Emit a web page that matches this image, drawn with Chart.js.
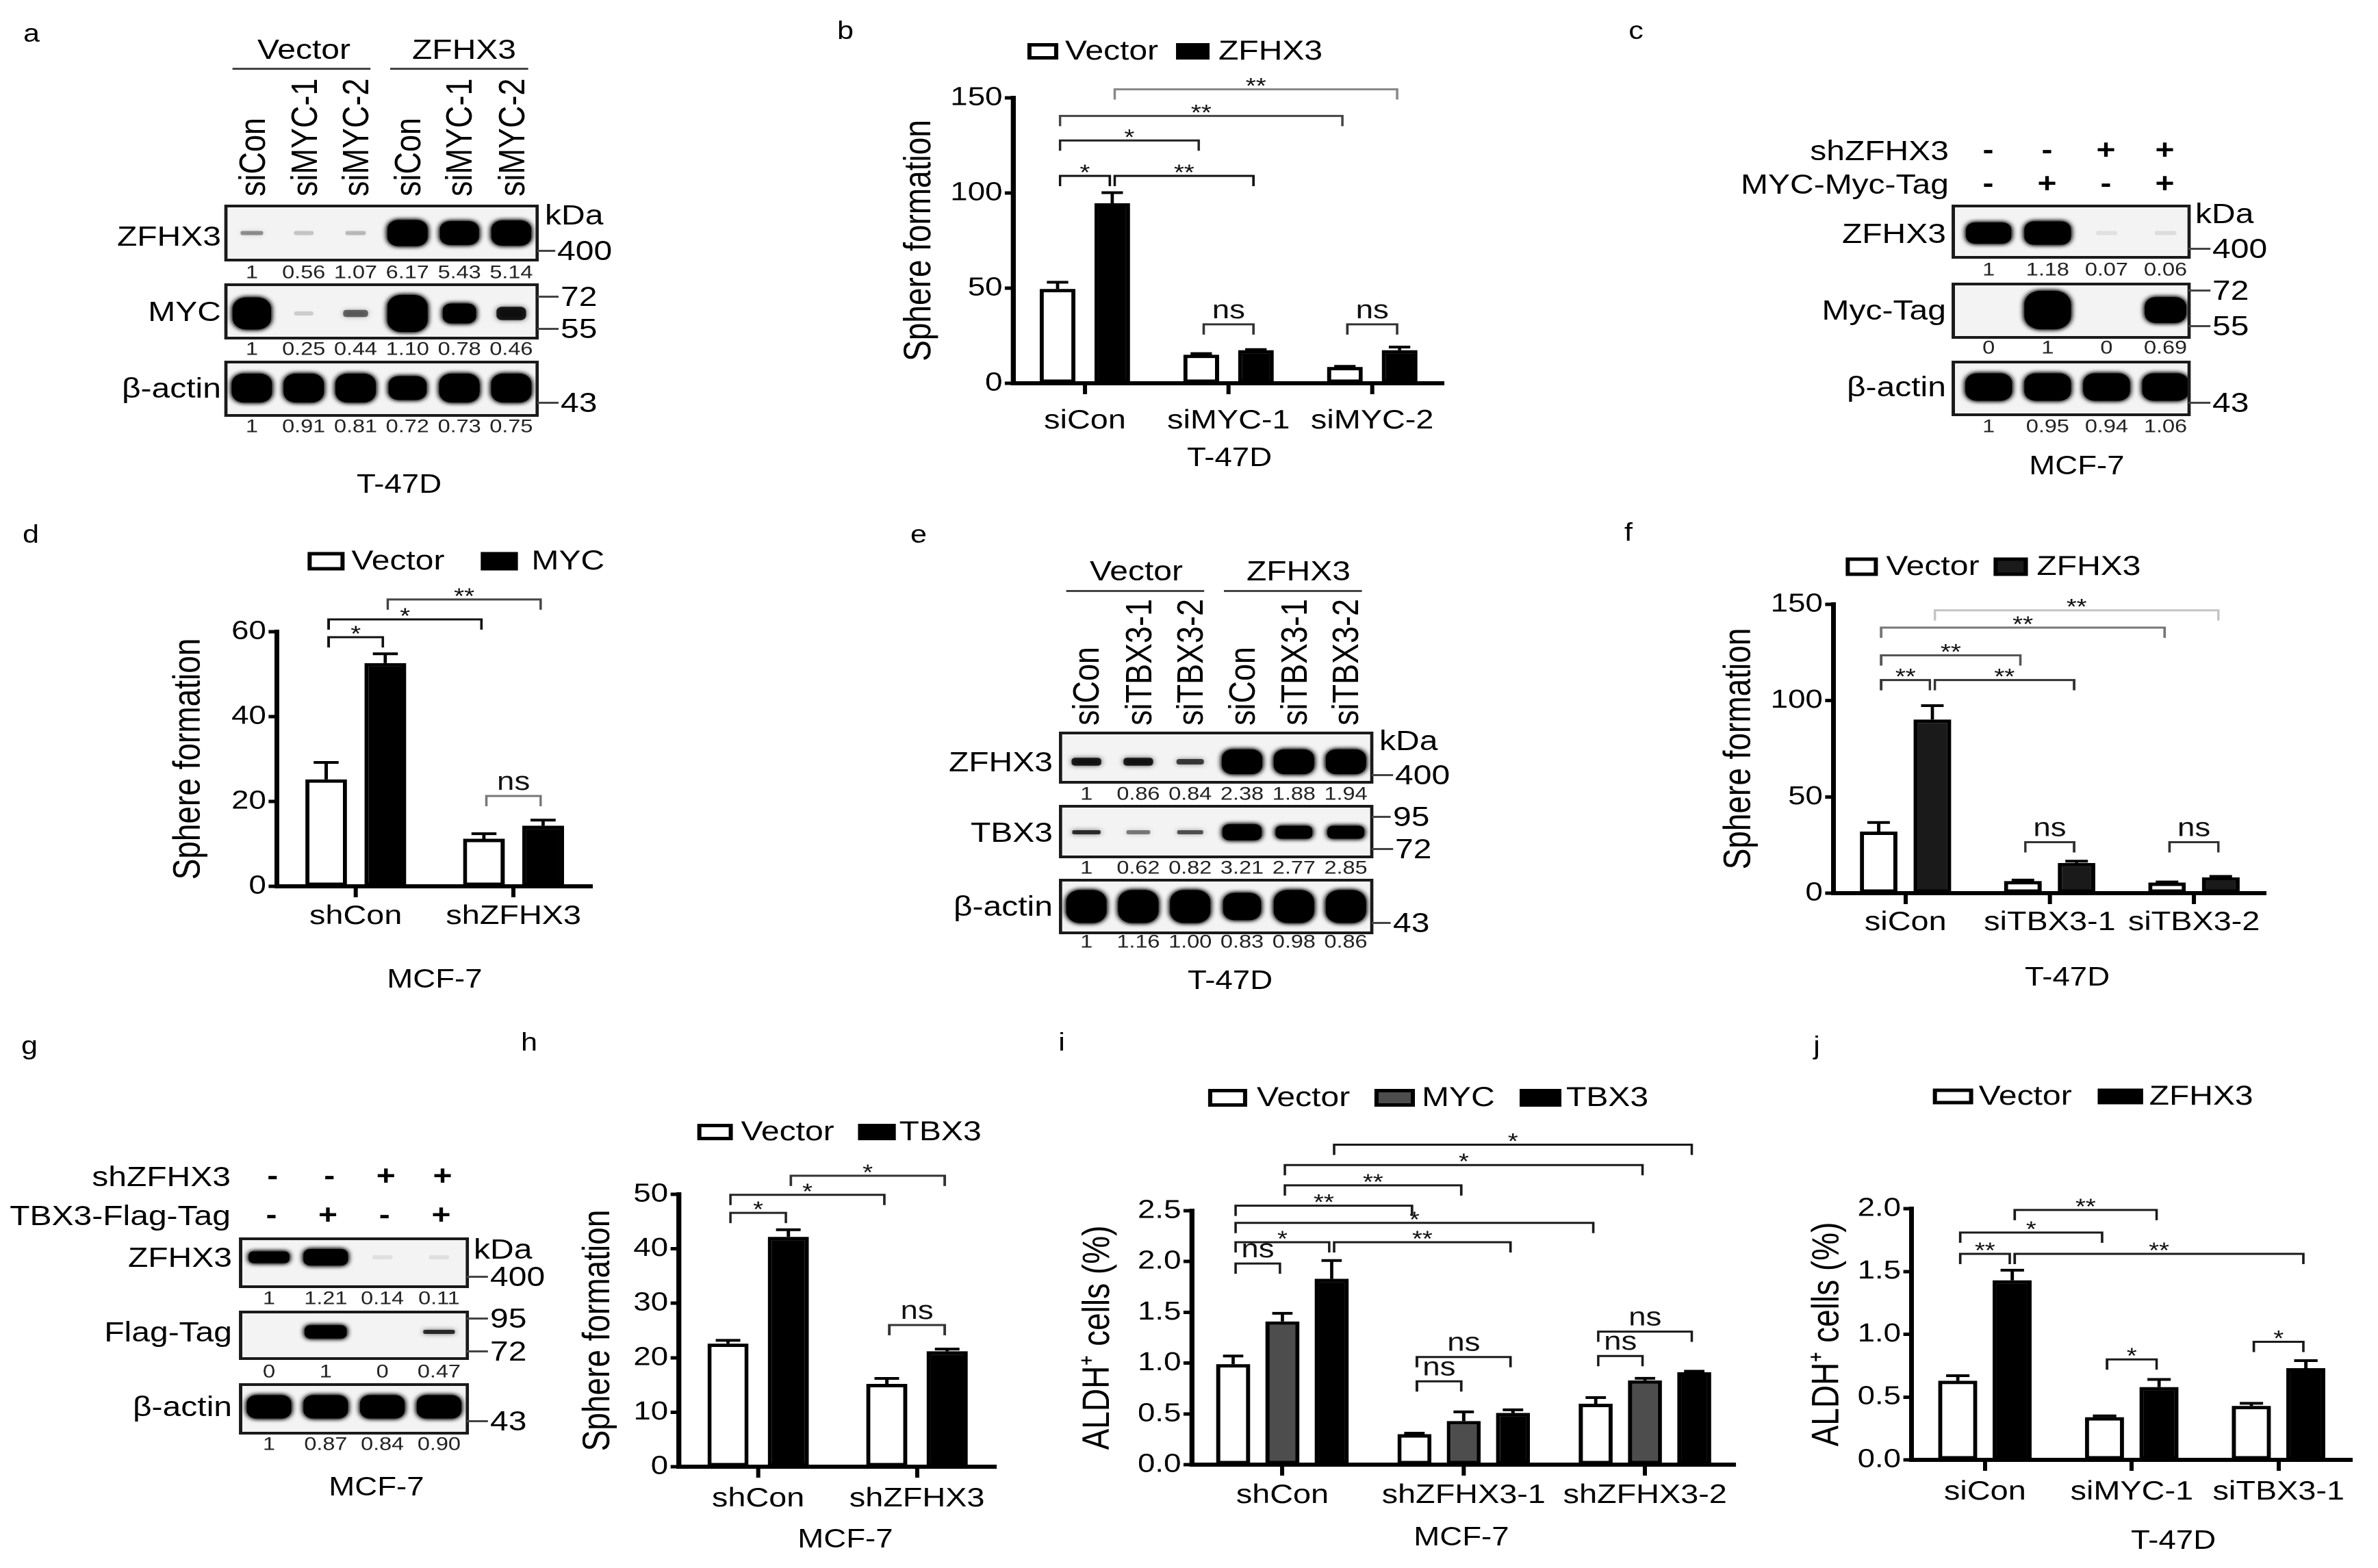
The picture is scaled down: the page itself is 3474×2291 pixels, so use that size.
<!DOCTYPE html>
<html>
<head>
<meta charset="utf-8">
<script src="https://cdn.jsdelivr.net/npm/chart.js@4.4.1/dist/chart.umd.min.js"></script>
<style>
  html, body { margin: 0; padding: 0; background: #fff; }
  body { width: 3474px; height: 2291px; overflow: hidden; position: relative; }
  #fig { position: absolute; left: 0; top: 0; width: 2895px; height: 2291px;
         transform: scaleX(1.2); transform-origin: 0 0;
         font-family: 'Liberation Sans', Arial, sans-serif; color: #000; }
  #fig .t { position: absolute; white-space: nowrap; line-height: 1; }
  #fig canvas { position: absolute; }
</style>
</head>
<body>
<div id="fig"></div>
<script>
// the figure text is wider than Arial, so the page is drawn narrow and stretched
const SX = 1.2;
const FONT = "'Liberation Sans', Arial, sans-serif";

// ---------- a: western blot, T-47D ----------
const aLanes = ['siCon', 'siMYC-1', 'siMYC-2', 'siCon', 'siMYC-1', 'siMYC-2'];
const aZfhx3Band = [0.25, 0.12, 0.15, 1, 0.95, 0.98];
const aZfhx3Nums = ['1', '0.56', '1.07', '6.17', '5.43', '5.14'];
const aMycBand = [0.92, 0.1, 0.35, 1, 0.7, 0.55];
const aMycNums = ['1', '0.25', '0.44', '1.10', '0.78', '0.46'];
const aActinBand = [1, 1, 1, 0.9, 1, 1];
const aActinNums = ['1', '0.91', '0.81', '0.72', '0.73', '0.75'];

// ---------- b: sphere formation, T-47D ----------
const bCats = ['siCon', 'siMYC-1', 'siMYC-2'];
const bVector = [49.6, 15, 8.6];
const bVectorErr = [3.5, 0.6, 0.3];
const bZfhx3 = [94.6, 17.4, 17.4];
const bZfhx3Err = [5.6, 0.3, 1.6];
// [group1, series1, group2, series2, y value, label]
const bSig = [[0,0,0,1,109,'*'], [0,1,1,1,109,'**'], [0,0,1,0,127.6,'*'], [0,0,2,0,140.5,'**'],
              [0,1,2,1,154.5,'**'], [1,0,1,1,31,'ns'], [2,0,2,1,31,'ns']];

// ---------- c: western blot, MCF-7 ----------
const cShZfhx3 = ['-', '-', '+', '+'];
const cMycTag = ['-', '+', '-', '+'];
const cZfhx3Band = [0.95, 1, 0.05, 0.06];
const cZfhx3Nums = ['1', '1.18', '0.07', '0.06'];
const cMycTagBand = [0, 1, 0, 0.8];
const cMycTagNums = ['0', '1', '0', '0.69'];
const cActinBand = [1, 1, 1, 1];
const cActinNums = ['1', '0.95', '0.94', '1.06'];

// ---------- d: sphere formation, MCF-7 ----------
const dCats = ['shCon', 'shZFHX3'];
const dVector = [25.2, 11.2];
const dVectorErr = [4, 1.2];
const dMyc = [52.6, 14.3];
const dMycErr = [2.2, 1.3];
const dSig = [[0,0,0,1,58.7,'*'], [0,0,1,0,62.9,'*'], [0,1,1,1,67.6,'**'], [1,0,1,1,21.3,'ns']];

// ---------- e: western blot, T-47D ----------
const eLanes = ['siCon', 'siTBX3-1', 'siTBX3-2', 'siCon', 'siTBX3-1', 'siTBX3-2'];
const eZfhx3Band = [0.55, 0.55, 0.45, 1, 1, 1];
const eZfhx3Nums = ['1', '0.86', '0.84', '2.38', '1.88', '1.94'];
const eTbx3Band = [0.5, 0.3, 0.4, 0.95, 0.85, 0.85];
const eTbx3Nums = ['1', '0.62', '0.82', '3.21', '2.77', '2.85'];
const eActinBand = [1, 1, 1, 0.9, 1, 1];
const eActinNums = ['1', '1.16', '1.00', '0.83', '0.98', '0.86'];

// ---------- f: sphere formation, T-47D ----------
const fCats = ['siCon', 'siTBX3-1', 'siTBX3-2'];
const fVector = [32, 6.3, 5.5];
const fVectorErr = [4.7, 0.5, 0.3];
const fZfhx3 = [90.2, 15.7, 8.2];
const fZfhx3Err = [7.2, 0.9, 0.5];
const fSig = [[0,0,0,1,110.7,'**'], [0,1,1,1,110.7,'**'], [0,0,1,0,123.5,'**'], [0,0,2,0,137.9,'**'],
              [0,1,2,1,146.9,'**'], [1,0,1,1,26.5,'ns'], [2,0,2,1,26.5,'ns']];

// ---------- g: western blot, MCF-7 ----------
const gShZfhx3 = ['-', '-', '+', '+'];
const gFlagTag = ['-', '+', '-', '+'];
const gZfhx3Band = [0.85, 1, 0.05, 0.05];
const gZfhx3Nums = ['1', '1.21', '0.14', '0.11'];
const gFlagBand = [0, 0.9, 0, 0.5];
const gFlagNums = ['0', '1', '0', '0.47'];
const gActinBand = [1, 1, 1, 1];
const gActinNums = ['1', '0.87', '0.84', '0.90'];

// ---------- h: sphere formation, MCF-7 ----------
const hCats = ['shCon', 'shZFHX3'];
const hVector = [22.6, 15.2];
const hVectorErr = [0.6, 1.0];
const hTbx3 = [42.2, 21.2];
const hTbx3Err = [1.3, 0.4];
const hSig = [[0,0,0,1,46.6,'*'], [0,0,1,0,49.9,'*'], [0,1,1,1,53.4,'*'], [1,0,1,1,26,'ns']];

// ---------- i: ALDH+ cells, MCF-7 ----------
const iCats = ['shCon', 'shZFHX3-1', 'shZFHX3-2'];
const iVector = [0.99, 0.30, 0.60];
const iVectorErr = [0.08, 0.01, 0.06];
const iMyc = [1.41, 0.43, 0.83];
const iMycErr = [0.08, 0.09, 0.02];
const iTbx3 = [1.83, 0.51, 0.91];
const iTbx3Err = [0.18, 0.03, 0.01];
const iSig = [[0,0,0,1,1.98,'ns'], [0,0,0,2,2.19,'*'], [0,2,1,2,2.19,'**'], [0,0,2,0,2.38,'*'],
              [0,0,1,0,2.55,'**'], [0,1,1,1,2.75,'**'], [0,1,2,1,2.95,'*'], [0,2,2,2,3.15,'*'],
              [1,0,1,1,0.82,'ns'], [1,0,1,2,1.06,'ns'], [2,0,2,1,1.07,'ns'], [2,0,2,2,1.31,'ns']];

// ---------- j: ALDH+ cells, T-47D ----------
const jCats = ['siCon', 'siMYC-1', 'siTBX3-1'];
const jVector = [0.63, 0.34, 0.43];
const jVectorErr = [0.04, 0.01, 0.02];
const jZfhx3 = [1.43, 0.58, 0.73];
const jZfhx3Err = [0.08, 0.06, 0.06];
const jSig = [[0,0,0,1,1.64,'**'], [0,1,2,1,1.64,'**'], [0,0,1,0,1.81,'*'], [0,1,1,1,1.99,'**'],
              [1,0,1,1,0.80,'*'], [2,0,2,1,0.94,'*']];

// -------------------------------------------------------------------
const fig = document.getElementById('fig');
const REG = {};   // per-canvas drawing info for the plugins
Chart.defaults.font.family = FONT;

function txt(s, x, y, o = {}) {
  const d = document.createElement('div');
  d.className = 't';
  d.textContent = s;
  d.style.fontSize = (o.size || 40) + 'px';
  d.style.left = (x / SX) + 'px';
  d.style.top = y + 'px';
  const ax = o.align === 'right' ? 100 : o.align === 'left' ? 0 : 50;
  if (o.rot) {
    d.style.transformOrigin = '0 0';
    d.style.transform = `rotate(-90deg) translate(${-ax}%, -50%)`;
  } else {
    d.style.transform = `translate(${-ax}%, -50%)`;
  }
  if (o.weight) d.style.fontWeight = o.weight;
  if (o.color) d.style.color = o.color;
  fig.appendChild(d);
}

function hline(x1, x2, y, w, c) {
  const d = document.createElement('div');
  d.style.position = 'absolute';
  d.style.left = (x1 / SX) + 'px';
  d.style.width = ((x2 - x1) / SX) + 'px';
  d.style.top = (y - w / 2) + 'px';
  d.style.height = w + 'px';
  d.style.background = c;
  fig.appendChild(d);
}

function makeCanvas(id, l, t, r, b) {
  const cv = document.createElement('canvas');
  cv.id = id;
  const w = Math.round((r - l) / SX), h = Math.round(b - t);
  cv.width = w; cv.height = h;
  cv.style.left = (l / SX) + 'px';
  cv.style.top = t + 'px';
  cv.style.width = w + 'px';
  cv.style.height = h + 'px';
  fig.appendChild(cv);
  return cv;
}

// error bars above each bar
Chart.register({
  id: 'errBars',
  afterDatasetsDraw(chart) {
    const ctx = chart.ctx, ys = chart.scales.y;
    chart.data.datasets.forEach((ds, i) => {
      if (!ds.errors) return;
      chart.getDatasetMeta(i).data.forEach((el, j) => {
        const top = ys.getPixelForValue(ds.data[j] + ds.errors[j]);
        const hw = el.width * 0.3;
        ctx.save();
        ctx.strokeStyle = '#000';
        ctx.lineWidth = 4;
        ctx.beginPath();
        ctx.moveTo(el.x, el.y); ctx.lineTo(el.x, top);
        ctx.moveTo(el.x - hw, top); ctx.lineTo(el.x + hw, top);
        ctx.stroke();
        ctx.restore();
      });
    });
  }
});

// significance brackets + legend boxes
Chart.register({
  id: 'sigMarks',
  afterDraw(chart) {
    const p = REG[chart.canvas.id];
    if (!p || !p.sig) return;
    const ctx = chart.ctx, ys = chart.scales.y;
    p.sig.forEach((it, k) => {
      const [g1, s1, g2, s2, v, label] = it;
      const e1 = chart.getDatasetMeta(s1).data[g1];
      const e2 = chart.getDatasetMeta(s2).data[g2];
      const x1 = Math.min(e1.x, e2.x) + 3, x2 = Math.max(e1.x, e2.x) - 3;
      const y = ys.getPixelForValue(v);
      const leg = 15;
      ctx.save();
      ctx.strokeStyle = (p.sigColors && p.sigColors[k]) || '#1a1a1a';
      ctx.lineWidth = 3;
      ctx.beginPath();
      ctx.moveTo(x1, y + leg); ctx.lineTo(x1, y); ctx.lineTo(x2, y); ctx.lineTo(x2, y + leg);
      ctx.stroke();
      ctx.fillStyle = '#111';
      ctx.textAlign = 'center';
      ctx.textBaseline = 'alphabetic';
      if (label === 'ns') {
        ctx.font = `38px ${FONT}`;
        ctx.fillText(label, (x1 + x2) / 2, y - 9);
      } else {
        ctx.font = `32px ${FONT}`;
        ctx.fillText(label, (x1 + x2) / 2, y + 6);
      }
      ctx.restore();
    });

    const lg = p.legend, ox = p.canvas[0], oy = p.canvas[1];
    chart.data.datasets.forEach((ds, i) => {
      const bx0 = (lg.boxes[i][0] - ox) / SX, bx1 = (lg.boxes[i][1] - ox) / SX;
      const by = lg.y - oy - lg.h / 2;
      ctx.save();
      ctx.fillStyle = ds.backgroundColor;
      ctx.fillRect(bx0, by, bx1 - bx0, lg.h);
      ctx.strokeStyle = '#000';
      ctx.lineWidth = 5;
      ctx.strokeRect(bx0 + 2.5, by + 2.5, bx1 - bx0 - 5, lg.h - 5);
      ctx.fillStyle = '#000';
      ctx.font = `40px ${FONT}`;
      ctx.textAlign = 'left';
      ctx.textBaseline = 'middle';
      ctx.fillText(ds.label, (lg.texts[i] - ox) / SX, lg.y - oy + 1);
      ctx.restore();
    });
  }
});

// blot boxes, bands and quantification numbers
Chart.register({
  id: 'blotRows',
  afterDraw(chart) {
    const p = REG[chart.canvas.id];
    if (!p || !p.rows) return;
    const ctx = chart.ctx, xs = chart.scales.x, ys = chart.scales.y, ca = chart.chartArea;
    const sp = xs.getPixelForValue(2) - xs.getPixelForValue(1);
    p.rows.forEach(r => {
      const yT = ys.getPixelForValue(r.t), yB = ys.getPixelForValue(r.b);
      ctx.save();
      ctx.fillStyle = '#f3f3f3';
      ctx.fillRect(ca.left, yT, ca.right - ca.left, yB - yT);
      ctx.beginPath();
      ctx.rect(ca.left, yT, ca.right - ca.left, yB - yT);
      ctx.clip();
      const cy = ys.getPixelForValue((r.t + r.b) / 2 + (r.dy || 0));
      r.band.forEach((v, i) => {
        if (v <= 0) return;
        const cx = xs.getPixelForValue(i + 1);
        const w = sp * (0.45 + 0.45 * v) - 8;
        const h = Math.max(6, r.bandH * (0.2 + 0.8 * v * v) - 8);
        const a = Math.min(1, 1.5 * v).toFixed(3);
        ctx.fillStyle = `rgba(0,0,0,${a})`;
        ctx.shadowColor = `rgba(0,0,0,${a})`;
        ctx.shadowBlur = 14;
        const n = v > 0.6 ? 2 : 1;
        for (let k = 0; k < n; k++) {
          ctx.beginPath();
          ctx.roundRect(cx - w / 2, cy - h / 2, w, h, Math.min(h, w) * 0.35);
          ctx.fill();
        }
      });
      ctx.restore();
      ctx.save();
      ctx.strokeStyle = '#1a1a1a';
      ctx.lineWidth = 4;
      ctx.strokeRect(ca.left, yT, ca.right - ca.left, yB - yT);
      ctx.fillStyle = '#222';
      ctx.font = `27px ${FONT}`;
      ctx.textAlign = 'center';
      ctx.textBaseline = 'middle';
      r.nums.forEach((s, i) => ctx.fillText(s, xs.getPixelForValue(i + 1), ys.getPixelForValue(r.numY)));
      ctx.restore();
    });
  }
});

function barPanel(p) {
  const [cl, ct, cr, cb] = p.canvas;
  const [L, T, R, B] = p.area;
  const cv = makeCanvas(p.id, cl, ct, cr, cb);
  REG[p.id] = p;
  const titleSize = 46;
  const titlePad = (p.titleX - cl) / SX - titleSize * 1.2 / 2;
  new Chart(cv, {
    type: 'bar',
    data: {
      labels: p.labels,
      datasets: p.sets.map(s => ({
        label: s.label, data: s.data, errors: s.err,
        backgroundColor: s.fill, borderColor: '#000', borderWidth: 5, borderSkipped: false,
        categoryPercentage: p.cp, barPercentage: p.bp
      }))
    },
    options: {
      responsive: false, animation: false, devicePixelRatio: 2, events: [],
      layout: { padding: { left: 0, top: T - ct, right: (cr - R) / SX, bottom: 0 } },
      plugins: { legend: { display: false }, tooltip: { enabled: false } },
      scales: {
        x: {
          grid: { drawOnChartArea: false, offset: false, tickLength: 16, tickWidth: 5, tickColor: '#000' },
          border: { color: '#000', width: 6 },
          ticks: { color: '#000', font: { size: 39 }, padding: p.xDy - 16 - 23.4, maxRotation: 0, autoSkip: false },
          afterFit: s => { s.height = cb - B; }
        },
        y: {
          min: 0, max: p.yMax,
          ticks: { stepSize: p.yStep, color: '#000', font: { size: 38 }, padding: 3,
                   callback: v => p.dec ? v.toFixed(p.dec) : v },
          grid: { drawOnChartArea: false, tickLength: 10, tickWidth: 5, tickColor: '#000' },
          border: { color: '#000', width: 6 },
          title: { display: true, text: p.yTitle, color: '#000', font: { size: titleSize },
                   padding: { top: titlePad, bottom: 0 } },
          afterFit: s => { s.width = (L - cl) / SX; }
        }
      }
    }
  });
}

function blotPanel(p) {
  const pad = 6;
  const cv = makeCanvas(p.id, p.box[0] - pad, p.top, p.box[1] + pad, p.bottom);
  REG[p.id] = p;
  new Chart(cv, {
    type: 'scatter',
    data: { datasets: [] },
    options: {
      responsive: false, animation: false, devicePixelRatio: 2, events: [],
      layout: { padding: { left: pad / SX, right: pad / SX, top: 0, bottom: 0 } },
      plugins: { legend: { display: false }, tooltip: { enabled: false } },
      scales: {
        x: { type: 'linear', display: false, min: p.lanes[0], max: p.lanes[1] },
        y: { type: 'linear', display: false, min: p.top, max: p.bottom, reverse: true }
      }
    }
  });
}

function laneX(p, lane) {
  return p.box[0] + (lane - p.lanes[0]) / (p.lanes[1] - p.lanes[0]) * (p.box[1] - p.box[0]);
}

function marker(boxR, textL, y, s) {
  hline(boxR, textL - 3, y, 3, '#444');
  txt(s, textL, y, { align: 'left' });
}

// ---------- panel letters ----------
[['a', 46, 49], ['b', 1235, 45], ['c', 2390, 45], ['d', 45, 781], ['e', 1342, 781],
 ['f', 2379, 778], ['g', 43, 1528], ['h', 773, 1523], ['i', 1551, 1523], ['j', 2654, 1528]]
  .forEach(([s, x, y]) => txt(s, x, y, { size: 36 }));

// ---------- a ----------
const pa = { id: 'a', box: [330, 785], lanes: [0.5, 6.5], top: 296, bottom: 640, rows: [
  { t: 301, b: 380, band: aZfhx3Band, nums: aZfhx3Nums, numY: 399, bandH: 46, dy: 0 },
  { t: 416, b: 494, band: aMycBand, nums: aMycNums, numY: 511, bandH: 62, dy: 3 },
  { t: 529, b: 607, band: aActinBand, nums: aActinNums, numY: 624, bandH: 50, dy: -1 } ] };
blotPanel(pa);
txt('Vector', 444, 72); hline(339, 541, 100, 3, '#444');
txt('ZFHX3', 678, 72); hline(570, 772, 100, 3, '#444');
aLanes.forEach((s, i) => txt(s, laneX(pa, i + 1), 287, { align: 'left', rot: true, size: 45 }));
txt('ZFHX3', 323, 345, { align: 'right' });
txt('MYC', 323, 455, { align: 'right' });
txt('β-actin', 323, 567, { align: 'right' });
txt('kDa', 796, 314, { align: 'left' });
marker(785, 814, 366, '400'); marker(785, 819, 433, '72'); marker(785, 819, 480, '55'); marker(785, 819, 588, '43');
txt('T-47D', 583, 707, { size: 38 });

// ---------- c ----------
const pc = { id: 'c', box: [2853, 3197], lanes: [0.4, 4.4], top: 296, bottom: 640, rows: [
  { t: 301, b: 376, band: cZfhx3Band, nums: cZfhx3Nums, numY: 395, bandH: 42, dy: 2 },
  { t: 415, b: 493, band: cMycTagBand, nums: cMycTagNums, numY: 509, bandH: 64, dy: -1 },
  { t: 529, b: 606, band: cActinBand, nums: cActinNums, numY: 624, bandH: 48, dy: -2 } ] };
blotPanel(pc);
txt('shZFHX3', 2847, 220, { align: 'right' });
txt('MYC-Myc-Tag', 2847, 269, { align: 'right' });
cShZfhx3.forEach((s, i) => txt(s, laneX(pc, i + 1), 218, { weight: 'bold' }));
cMycTag.forEach((s, i) => txt(s, laneX(pc, i + 1), 267, { weight: 'bold' }));
txt('ZFHX3', 2843, 341, { align: 'right' });
txt('Myc-Tag', 2843, 453, { align: 'right' });
txt('β-actin', 2843, 565, { align: 'right' });
txt('kDa', 3207, 312, { align: 'left' });
marker(3197, 3232, 363, '400'); marker(3197, 3232, 424, '72'); marker(3197, 3232, 476, '55'); marker(3197, 3232, 588, '43');
txt('MCF-7', 3034, 680, { size: 38 });

// ---------- e ----------
const pe = { id: 'e', box: [1549, 2004], lanes: [0.5, 6.5], top: 1066, bottom: 1392, rows: [
  { t: 1071, b: 1143, band: eZfhx3Band, nums: eZfhx3Nums, numY: 1161, bandH: 44, dy: 6 },
  { t: 1178, b: 1252, band: eTbx3Band, nums: eTbx3Nums, numY: 1269, bandH: 34, dy: 1 },
  { t: 1286, b: 1363, band: eActinBand, nums: eActinNums, numY: 1377, bandH: 56, dy: 0 } ] };
blotPanel(pe);
txt('Vector', 1660, 834); hline(1557, 1759, 863, 3, '#444');
txt('ZFHX3', 1897, 834); hline(1788, 1990, 863, 3, '#444');
eLanes.forEach((s, i) => txt(s, laneX(pe, i + 1), 1060, { align: 'left', rot: true, size: 45 }));
txt('ZFHX3', 1538, 1113, { align: 'right' });
txt('TBX3', 1538, 1216, { align: 'right' });
txt('β-actin', 1538, 1324, { align: 'right' });
txt('kDa', 2015, 1082, { align: 'left' });
marker(2004, 2038, 1132, '400'); marker(2004, 2035, 1193, '95'); marker(2004, 2038, 1240, '72'); marker(2004, 2035, 1348, '43');
txt('T-47D', 1797, 1432, { size: 38 });

// ---------- g ----------
const pg = { id: 'g', box: [351, 682], lanes: [0.5, 4.5], top: 1805, bottom: 2126, rows: [
  { t: 1810, b: 1880, band: gZfhx3Band, nums: gZfhx3Nums, numY: 1898, bandH: 32, dy: -8 },
  { t: 1917, b: 1985, band: gFlagBand, nums: gFlagNums, numY: 2005, bandH: 32, dy: -5 },
  { t: 2023, b: 2094, band: gActinBand, nums: gActinNums, numY: 2111, bandH: 42, dy: -3 } ] };
blotPanel(pg);
txt('shZFHX3', 337, 1719, { align: 'right' });
txt('TBX3-Flag-Tag', 337, 1776, { align: 'right' });
gShZfhx3.forEach((s, i) => txt(s, laneX(pg, i + 1) + 6, 1717, { weight: 'bold' }));
gFlagTag.forEach((s, i) => txt(s, laneX(pg, i + 1) + 4, 1774, { weight: 'bold' }));
txt('ZFHX3', 339, 1837, { align: 'right' });
txt('Flag-Tag', 339, 1946, { align: 'right' });
txt('β-actin', 339, 2055, { align: 'right' });
txt('kDa', 692, 1825, { align: 'left' });
marker(682, 716, 1865, '400'); marker(682, 716, 1926, '95'); marker(682, 716, 1974, '72'); marker(682, 716, 2076, '43');
txt('MCF-7', 550, 2172, { size: 38 });

// ---------- bar panels ----------
barPanel({ id: 'b', canvas: [1290, 40, 2140, 700], area: [1480, 143, 2110, 560], titleX: 1344,
  labels: bCats, yMax: 150, yStep: 50, yTitle: 'Sphere formation', cp: 0.762, bp: 0.65, xDy: 55,
  sets: [{ label: 'Vector', data: bVector, err: bVectorErr, fill: '#fff' },
         { label: 'ZFHX3', data: bZfhx3, err: bZfhx3Err, fill: '#000' }],
  sig: bSig, sigColors: ['#111', '#111', '#222', '#444', '#888', '#333', '#333'],
  legend: { boxes: [[1501, 1546], [1718, 1767]], texts: [1556, 1780], y: 75, h: 24 } });
txt('T-47D', 1796, 668, { size: 38 });

barPanel({ id: 'd', canvas: [230, 760, 890, 1460], area: [404, 923, 865, 1295], titleX: 276,
  labels: dCats, yMax: 60, yStep: 20, yTitle: 'Sphere formation', cp: 0.75, bp: 0.705, xDy: 44,
  sets: [{ label: 'Vector', data: dVector, err: dVectorErr, fill: '#fff' },
         { label: 'MYC', data: dMyc, err: dMycErr, fill: '#000' }],
  sig: dSig, sigColors: ['#111', '#111', '#444', '#777'],
  legend: { boxes: [[449, 503], [702, 756]], texts: [513, 776], y: 820, h: 27 } });
txt('MCF-7', 635, 1430, { size: 38 });

barPanel({ id: 'f', canvas: [2480, 770, 3350, 1470], area: [2678, 883, 3310, 1305], titleX: 2541,
  labels: fCats, yMax: 150, yStep: 50, yTitle: 'Sphere formation', cp: 0.745, bp: 0.70, xDy: 43,
  sets: [{ label: 'Vector', data: fVector, err: fVectorErr, fill: '#fff' },
         { label: 'ZFHX3', data: fZfhx3, err: fZfhx3Err, fill: '#1a1a1a' }],
  sig: fSig, sigColors: ['#333', '#333', '#555', '#777', '#c4c4c4', '#333', '#333'],
  legend: { boxes: [[2696, 2743], [2912, 2962]], texts: [2755, 2975], y: 828, h: 27 } });
txt('T-47D', 3020, 1427, { size: 38 });

barPanel({ id: 'h', canvas: [820, 1600, 1480, 2291], area: [992, 1745, 1456, 2143], titleX: 875,
  labels: hCats, yMax: 50, yStep: 10, yTitle: 'Sphere formation', cp: 0.76, bp: 0.68, xDy: 47,
  sets: [{ label: 'Vector', data: hVector, err: hVectorErr, fill: '#fff' },
         { label: 'TBX3', data: hTbx3, err: hTbx3Err, fill: '#000' }],
  sig: hSig, sigColors: ['#222', '#222', '#333', '#333'],
  legend: { boxes: [[1019, 1071], [1254, 1309]], texts: [1083, 1314], y: 1654, h: 24 } });
txt('MCF-7', 1235, 2248, { size: 38 });

barPanel({ id: 'i', canvas: [1560, 1560, 2560, 2291], area: [1741, 1769, 2536, 2140], titleX: 1605,
  labels: iCats, yMax: 2.5, yStep: 0.5, dec: 1, yTitle: 'ALDH⁺ cells (%)', cp: 0.815, bp: 0.69, xDy: 45,
  sets: [{ label: 'Vector', data: iVector, err: iVectorErr, fill: '#fff' },
         { label: 'MYC', data: iMyc, err: iMycErr, fill: '#4d4d4d' },
         { label: 'TBX3', data: iTbx3, err: iTbx3Err, fill: '#000' }],
  sig: iSig, sigColors: [],
  legend: { boxes: [[1765, 1822], [2008, 2067], [2220, 2281]], texts: [1836, 2077, 2288], y: 1604, h: 26 } });
txt('MCF-7', 2135, 2245, { size: 38 });

barPanel({ id: 'j', canvas: [2620, 1560, 3474, 2291], area: [2793, 1766, 3436, 2133], titleX: 2671,
  labels: jCats, yMax: 2.0, yStep: 0.5, dec: 1, yTitle: 'ALDH⁺ cells (%)', cp: 0.742, bp: 0.717, xDy: 47,
  sets: [{ label: 'Vector', data: jVector, err: jVectorErr, fill: '#fff' },
         { label: 'ZFHX3', data: jZfhx3, err: jZfhx3Err, fill: '#000' }],
  sig: jSig, sigColors: [],
  legend: { boxes: [[2824, 2883], [3065, 3131]], texts: [2891, 3140], y: 1602, h: 23 } });
txt('T-47D', 3175, 2250, { size: 38 });
</script>
</body>
</html>
